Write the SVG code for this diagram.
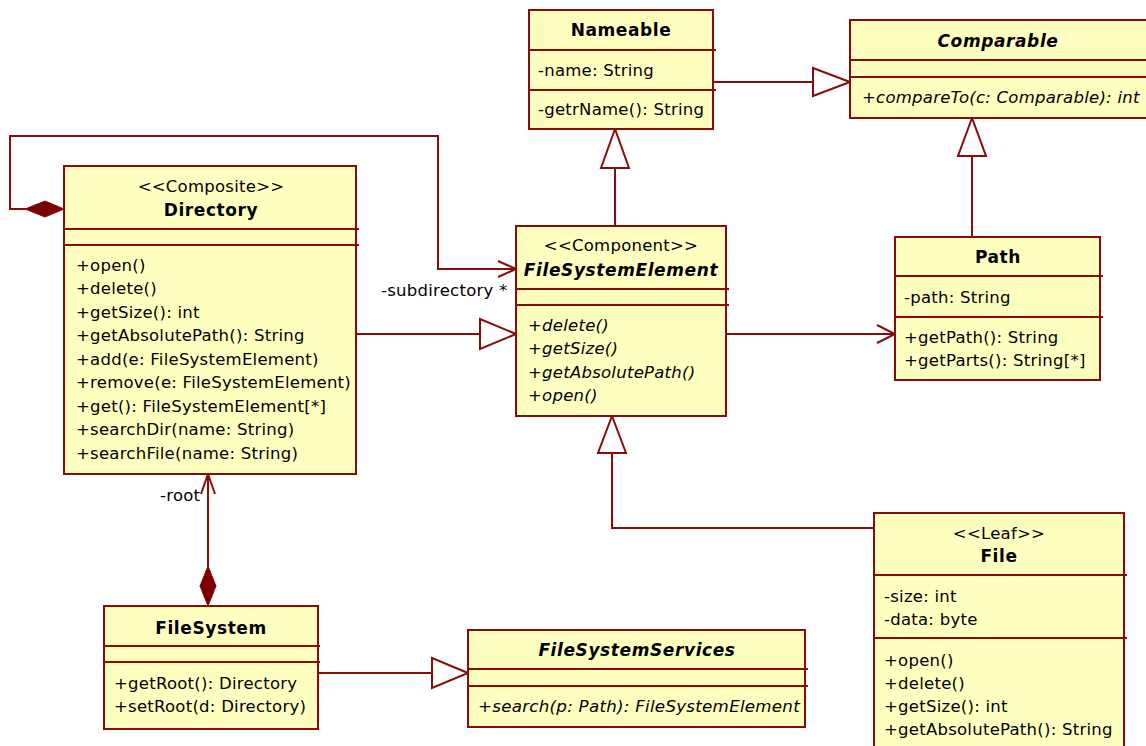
<svg xmlns="http://www.w3.org/2000/svg" width="1146" height="746" viewBox="0 0 1146 746">
<style>
.box{fill:#ffffc0;stroke:#8b0a0a;stroke-width:2}
.sep{stroke:#8b0a0a;stroke-width:2;fill:none}
.ln{stroke:#8b0a0a;stroke-width:2;fill:none}
.tri{stroke:#8b0a0a;stroke-width:2;fill:#ffffff}
.dia{stroke:#8b0a0a;stroke-width:1;fill:#7a0000}
text{font-family:"DejaVu Sans",Verdana,sans-serif;font-size:16.5px;letter-spacing:0.25px;fill:#000}
.c{text-anchor:middle}
.b{font-weight:bold;font-size:17px;letter-spacing:0.6px}
.i{font-style:italic}
</style>
<rect width="1146" height="746" fill="#ffffff"/>
<g id="connectors">
  <polyline class="ln" points="26,209 10,209 10,136 438,136 438,269 515,269"/>
  <polyline class="ln" points="498,261 516,269 498,277"/>
  <polygon class="dia" points="25,209 45,201 64,209 45,217"/>
  <text x="381" y="296">-subdirectory *</text>
  <line class="ln" x1="713" y1="82" x2="813" y2="82"/>
  <polygon class="tri" points="850,82 813,68 813,96"/>
  <line class="ln" x1="972" y1="237" x2="972" y2="156"/>
  <polygon class="tri" points="972,118 958,156 986,156"/>
  <line class="ln" x1="615" y1="226" x2="615" y2="168"/>
  <polygon class="tri" points="615,129 601,168 629,168"/>
  <line class="ln" x1="356" y1="334" x2="480" y2="334"/>
  <polygon class="tri" points="516,334 480,319 480,349"/>
  <line class="ln" x1="726" y1="334" x2="894" y2="334"/>
  <polyline class="ln" points="877,325 895,334 877,343"/>
  <polyline class="ln" points="874,528 612,528 612,453"/>
  <polygon class="tri" points="612,416 598,453 626,453"/>
  <line class="ln" x1="208" y1="566" x2="208" y2="475"/>
  <polyline class="ln" points="201,494 208,474 215,494"/>
  <polygon class="dia" points="208,566 216,586 208,606 200,586"/>
  <text x="160" y="501">-root</text>
  <line class="ln" x1="318" y1="673" x2="432" y2="673"/>
  <polygon class="tri" points="468,673 432,658 432,688"/>
</g>
<g id="Nameable">
  <rect class="box" x="529" y="10" width="184" height="119"/>
  <line class="sep" x1="529" y1="50" x2="716" y2="50"/>
  <line class="sep" x1="529" y1="90" x2="716" y2="90"/>
  <text class="c b" x="621" y="36">Nameable</text>
  <text x="538" y="76">-name: String</text>
  <text x="538" y="115">-getrName(): String</text>
</g>
<g id="Comparable">
  <rect class="box" x="850" y="20" width="300" height="98"/>
  <line class="sep" x1="850" y1="60" x2="1150" y2="60"/>
  <line class="sep" x1="850" y1="77" x2="1150" y2="77"/>
  <text class="c b i" x="998" y="47">Comparable</text>
  <text class="i" x="862" y="103">+compareTo(c: Comparable): int</text>
</g>
<g id="Directory">
  <rect class="box" x="64" y="166" width="292" height="308"/>
  <line class="sep" x1="64" y1="229" x2="359" y2="229"/>
  <line class="sep" x1="64" y1="245" x2="359" y2="245"/>
  <text class="c" x="211" y="192">&lt;&lt;Composite&gt;&gt;</text>
  <text class="c b" x="211" y="216">Directory</text>
  <text x="76" y="271">+open()</text>
  <text x="76" y="294">+delete()</text>
  <text x="76" y="318">+getSize(): int</text>
  <text x="76" y="341">+getAbsolutePath(): String</text>
  <text x="76" y="365">+add(e: FileSystemElement)</text>
  <text x="76" y="388">+remove(e: FileSystemElement)</text>
  <text x="76" y="412">+get(): FileSystemElement[*]</text>
  <text x="76" y="435">+searchDir(name: String)</text>
  <text x="76" y="459">+searchFile(name: String)</text>
</g>
<g id="FileSystemElement">
  <rect class="box" x="516" y="226" width="210" height="190"/>
  <line class="sep" x1="516" y1="289" x2="729" y2="289"/>
  <line class="sep" x1="516" y1="305" x2="729" y2="305"/>
  <text class="c" x="621" y="251">&lt;&lt;Component&gt;&gt;</text>
  <text class="c b i" x="621" y="276">FileSystemElement</text>
  <text class="i" x="528" y="331">+delete()</text>
  <text class="i" x="528" y="354">+getSize()</text>
  <text class="i" x="528" y="378">+getAbsolutePath()</text>
  <text class="i" x="528" y="401">+open()</text>
</g>
<g id="Path">
  <rect class="box" x="895" y="237" width="205" height="143"/>
  <line class="sep" x1="895" y1="276" x2="1103" y2="276"/>
  <line class="sep" x1="895" y1="317" x2="1103" y2="317"/>
  <text class="c b" x="998" y="263">Path</text>
  <text x="904" y="303">-path: String</text>
  <text x="904" y="343">+getPath(): String</text>
  <text x="904" y="366">+getParts(): String[*]</text>
</g>
<g id="File">
  <rect class="box" x="874" y="513" width="250" height="250"/>
  <line class="sep" x1="874" y1="575" x2="1127" y2="575"/>
  <line class="sep" x1="874" y1="638" x2="1127" y2="638"/>
  <text class="c" x="999" y="539">&lt;&lt;Leaf&gt;&gt;</text>
  <text class="c b" x="999" y="562">File</text>
  <text x="884" y="602">-size: int</text>
  <text x="884" y="625">-data: byte</text>
  <text x="884" y="666">+open()</text>
  <text x="884" y="689">+delete()</text>
  <text x="884" y="712">+getSize(): int</text>
  <text x="884" y="735">+getAbsolutePath(): String</text>
</g>
<g id="FileSystem">
  <rect class="box" x="104" y="606" width="214" height="123"/>
  <line class="sep" x1="104" y1="646" x2="320" y2="646"/>
  <line class="sep" x1="104" y1="662" x2="320" y2="662"/>
  <text class="c b" x="211" y="634">FileSystem</text>
  <text x="114" y="689">+getRoot(): Directory</text>
  <text x="114" y="712">+setRoot(d: Directory)</text>
</g>
<g id="FileSystemServices">
  <rect class="box" x="468" y="630" width="337" height="97"/>
  <line class="sep" x1="468" y1="669" x2="808" y2="669"/>
  <line class="sep" x1="468" y1="686" x2="808" y2="686"/>
  <text class="c b i" x="637" y="656">FileSystemServices</text>
  <text class="i" x="478" y="712" textLength="322" lengthAdjust="spacingAndGlyphs">+search(p: Path): FileSystemElement</text>
</g>
</svg>
